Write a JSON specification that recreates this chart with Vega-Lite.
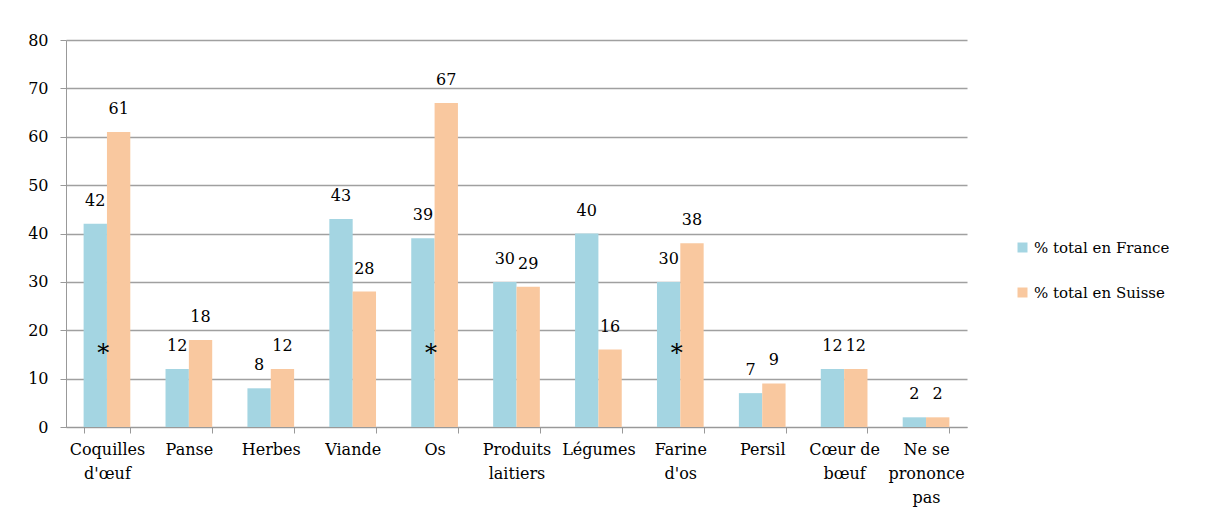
{
  "$schema": "https://vega.github.io/schema/vega-lite/v6.json",
  "width": 901,
  "height": 387,
  "autosize": {"type": "none"},
  "padding": {"left": 66, "top": 40, "right": 246, "bottom": 103},
  "background": "white",
  "config": {
    "view": {"stroke": null},
    "font": "DejaVu Serif",
    "axis": {"labelFont": "DejaVu Serif"},
    "legend": {"labelFont": "DejaVu Serif"},
    "text": {"font": "DejaVu Serif"}
  },
  "datasets": {
    "bars": [
      {"categorie": "Coquilles d'œuf", "serie": "% total en France", "valeur": 42},
      {"categorie": "Coquilles d'œuf", "serie": "% total en Suisse", "valeur": 61},
      {"categorie": "Panse", "serie": "% total en France", "valeur": 12},
      {"categorie": "Panse", "serie": "% total en Suisse", "valeur": 18},
      {"categorie": "Herbes", "serie": "% total en France", "valeur": 8},
      {"categorie": "Herbes", "serie": "% total en Suisse", "valeur": 12},
      {"categorie": "Viande", "serie": "% total en France", "valeur": 43},
      {"categorie": "Viande", "serie": "% total en Suisse", "valeur": 28},
      {"categorie": "Os", "serie": "% total en France", "valeur": 39},
      {"categorie": "Os", "serie": "% total en Suisse", "valeur": 67},
      {"categorie": "Produits laitiers", "serie": "% total en France", "valeur": 30},
      {"categorie": "Produits laitiers", "serie": "% total en Suisse", "valeur": 29},
      {"categorie": "Légumes", "serie": "% total en France", "valeur": 40},
      {"categorie": "Légumes", "serie": "% total en Suisse", "valeur": 16},
      {"categorie": "Farine d'os", "serie": "% total en France", "valeur": 30},
      {"categorie": "Farine d'os", "serie": "% total en Suisse", "valeur": 38},
      {"categorie": "Persil", "serie": "% total en France", "valeur": 7},
      {"categorie": "Persil", "serie": "% total en Suisse", "valeur": 9},
      {"categorie": "Cœur de bœuf", "serie": "% total en France", "valeur": 12},
      {"categorie": "Cœur de bœuf", "serie": "% total en Suisse", "valeur": 12},
      {"categorie": "Ne se prononce pas", "serie": "% total en France", "valeur": 2},
      {"categorie": "Ne se prononce pas", "serie": "% total en Suisse", "valeur": 2}
    ],
    "stars": [
      {"categorie": "Coquilles d'œuf", "serie": "% total en France", "signe": "*"},
      {"categorie": "Os", "serie": "% total en France", "signe": "*"},
      {"categorie": "Farine d'os", "serie": "% total en France", "signe": "*"}
    ]
  },
  "encoding": {
    "x": {
      "field": "categorie",
      "type": "nominal",
      "sort": null,
      "scale": {
        "domain": ["Coquilles d'œuf", "Panse", "Herbes", "Viande", "Os", "Produits laitiers", "Légumes", "Farine d'os", "Persil", "Cœur de bœuf", "Ne se prononce pas"],
        "paddingInner": 0.43,
        "paddingOuter": 0.215
      },
      "axis": {
        "title": null,
        "labelAngle": 0,
        "labelFontSize": 16,
        "labelColor": "black",
        "labelPadding": 8,
        "labelLineHeight": 24,
        "labelBaseline": "top",
        "tickBand": "extent",
        "tickSize": 6,
        "tickColor": "#999999",
        "domainColor": "#999999",
        "labelExpr": "({\"Coquilles d'œuf\": ['Coquilles', \"d'œuf\"], 'Produits laitiers': ['Produits', 'laitiers'], \"Farine d'os\": ['Farine', \"d'os\"], 'Cœur de bœuf': ['Cœur de', 'bœuf'], 'Ne se prononce pas': ['Ne se', 'prononce', 'pas']})[datum.label] || datum.label"
      }
    },
    "xOffset": {"field": "serie", "sort": null, "scale": {"domain": ["% total en France", "% total en Suisse"]}}
  },
  "layer": [
    {
      "data": {"name": "bars"},
      "mark": {"type": "bar"},
      "encoding": {
        "y": {
          "field": "valeur",
          "type": "quantitative",
          "scale": {"domain": [0, 80]},
          "axis": {
            "title": null,
            "values": [0, 10, 20, 30, 40, 50, 60, 70, 80],
            "labelFontSize": 16,
            "labelColor": "black",
            "labelPadding": 12,
            "tickSize": 6,
            "tickColor": "#999999",
            "domainColor": "#999999",
            "grid": true,
            "gridColor": "#a0a0a0",
            "gridWidth": 1.3
          }
        },
        "color": {
          "field": "serie",
          "type": "nominal",
          "scale": {"domain": ["% total en France", "% total en Suisse"], "range": ["#A4D5E2", "#F9C89F"]},
          "legend": {
            "title": null,
            "orient": "none",
            "legendX": 949,
            "legendY": 200,
            "symbolType": "square",
            "symbolSize": 100,
            "symbolStrokeWidth": 0,
            "labelFontSize": 15,
            "labelColor": "black",
            "rowPadding": 29,
            "labelOffset": 4,
            "padding": 0
          }
        }
      }
    },
    {
      "data": {"name": "bars"},
      "mark": {"type": "text", "baseline": "alphabetic", "dy": -18, "fontSize": 16, "color": "black"},
      "encoding": {
        "y": {"field": "valeur", "type": "quantitative"},
        "text": {"field": "valeur", "type": "quantitative"}
      }
    },
    {
      "data": {"name": "stars"},
      "mark": {"type": "text", "baseline": "middle", "fontSize": 24, "dx": 8, "color": "black"},
      "encoding": {
        "y": {"datum": 15, "type": "quantitative"},
        "text": {"field": "signe"}
      }
    }
  ]
}
